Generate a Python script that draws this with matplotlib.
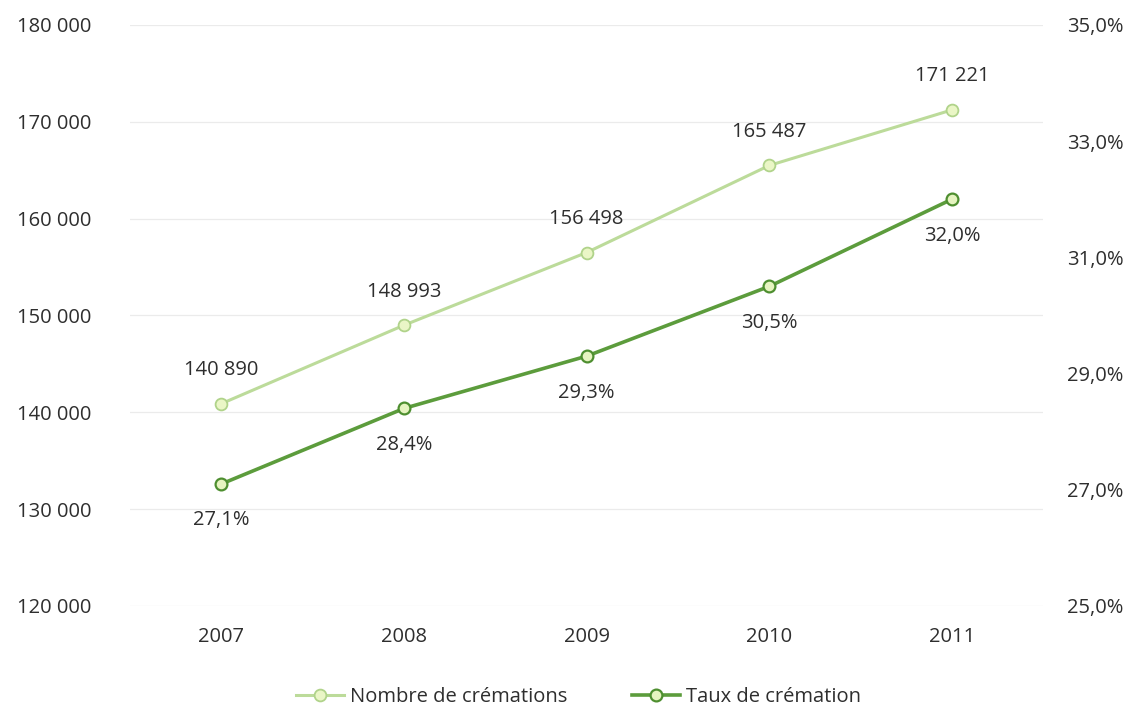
import matplotlib
matplotlib.use("Agg")
import matplotlib.pyplot as plt
from matplotlib.ticker import FuncFormatter

years = ["2007", "2008", "2009", "2010", "2011"]
nombre = [140890, 148993, 156498, 165487, 171221]
taux = [27.1, 28.4, 29.3, 30.5, 32.0]
left_ticks = [120000, 130000, 140000, 150000, 160000, 170000, 180000]
right_ticks = [25, 27, 29, 31, 33, 35]

plt.rcParams['font.family'] = ['Open Sans', 'DejaVu Sans']
txt = '#2e2e2e'
light_line = '#bcdb9a'
light_edge = '#b0d38a'
light_fill = '#eaf6c6'
dark_line = '#5c9c3c'
dark_edge = '#4e8f30'
dark_fill = '#e6f4c0'
FS = 14.5

fig = plt.figure(figsize=(11.34, 7.11), dpi=100)
ax = fig.add_axes([0.1147, 0.1477, 0.8053, 0.8173])
ax2 = ax.twinx()

x = list(range(len(years)))
ax.plot(x, nombre, color=light_line, lw=2.2, marker='o', ms=8.5,
        mfc=light_fill, mec=light_edge, mew=1.3, zorder=3, label='Nombre de crémations')
ax2.plot(x, taux, color=dark_line, lw=2.6, marker='o', ms=8.5,
         mfc=dark_fill, mec=dark_edge, mew=1.6, zorder=3, label='Taux de crémation')

ax.set_xlim(-0.5, len(years) - 0.5)
ax.set_ylim(120000, 180000)
ax2.set_ylim(25, 35)
ax.set_yticks(left_ticks)
ax2.set_yticks(right_ticks)
ax.yaxis.set_major_formatter(FuncFormatter(lambda v, p: f"{int(v):,}".replace(",", " ")))
ax2.yaxis.set_major_formatter(FuncFormatter(lambda v, p: f"{v:.1f}%".replace(".", ",")))
ax.set_xticks(x)
ax.set_xticklabels(years)

for a in (ax, ax2):
    for s in a.spines.values():
        s.set_visible(False)
    a.tick_params(length=0, labelsize=FS, labelcolor=txt)
ax.tick_params(axis='y', pad=28)
ax2.tick_params(axis='y', pad=17)
ax.tick_params(axis='x', pad=15)
ax.grid(axis='y', color='#ebebeb', lw=0.9)
ax.set_axisbelow(True)

for xi, v in zip(x, nombre):
    ax.annotate(f"{v:,}".replace(",", " "), (xi, v), xytext=(0, 17), textcoords='offset points',
                ha='center', va='bottom', fontsize=FS, color=txt)
for xi, v in zip(x, taux):
    ax2.annotate(f"{v:.1f}%".replace(".", ","), (xi, v), xytext=(0, -19), textcoords='offset points',
                 ha='center', va='top', fontsize=FS, color=txt)

h1, l1 = ax.get_legend_handles_labels()
h2, l2 = ax2.get_legend_handles_labels()
fig.legend(h1 + h2, l1 + l2, loc='center', bbox_to_anchor=(0.51, 0.02), ncol=2, frameon=False,
           fontsize=FS, labelcolor=txt, handlelength=2.4, columnspacing=3.2, handletextpad=0.3)

fig.savefig("out.png", dpi=100, facecolor='white')
